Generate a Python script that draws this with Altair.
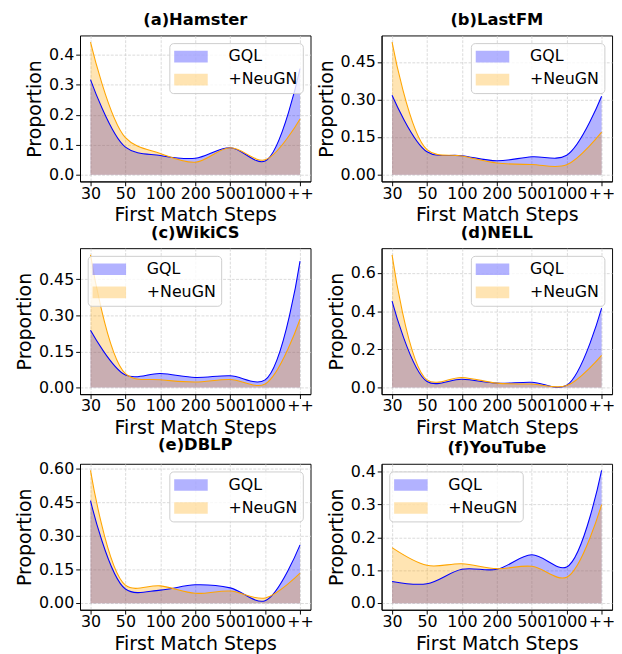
import altair as alt
import pandas as pd

steps = ["30", "50", "100", "200", "500", "1000", "++"]
series_names = ["GQL", "+NeuGN"]

titles = ["(a)Hamster", "(b)LastFM", "(c)WikiCS", "(d)NELL", "(e)DBLP", "(f)YouTube"]

hamster_gql = [0.317, 0.092, 0.064, 0.055, 0.090, 0.046, 0.354]
hamster_neu = [0.442, 0.124, 0.071, 0.042, 0.090, 0.050, 0.186]
lastfm_gql = [0.317, 0.092, 0.076, 0.056, 0.072, 0.078, 0.313]
lastfm_neu = [0.529, 0.100, 0.075, 0.047, 0.041, 0.040, 0.170]
wikics_gql = [0.238, 0.052, 0.058, 0.042, 0.049, 0.032, 0.526]
wikics_neu = [0.552, 0.058, 0.032, 0.023, 0.033, 0.015, 0.284]
nell_gql = [0.453, 0.032, 0.043, 0.023, 0.028, 0.012, 0.416]
nell_neu = [0.696, 0.040, 0.053, 0.023, 0.018, 0.010, 0.169]
dblp_gql = [0.457, 0.063, 0.058, 0.082, 0.068, 0.011, 0.260]
dblp_neu = [0.592, 0.080, 0.077, 0.044, 0.054, 0.023, 0.134]
youtube_gql = [0.066, 0.059, 0.103, 0.103, 0.147, 0.110, 0.404]
youtube_neu = [0.169, 0.115, 0.120, 0.105, 0.112, 0.079, 0.300]

y_ticks = [
    [0.0, 0.1, 0.2, 0.3, 0.4],
    [0.0, 0.15, 0.30, 0.45],
    [0.0, 0.15, 0.30, 0.45],
    [0.0, 0.2, 0.4, 0.6],
    [0.0, 0.15, 0.30, 0.45, 0.60],
    [0.0, 0.1, 0.2, 0.3, 0.4],
]
y_formats = [".1f", ".2f", ".2f", ".1f", ".2f", ".1f"]
legend_orients = ["top-right", "top-right", "top-left", "top-right", "top-right", "top-left"]

panel_data = [
    (hamster_gql, hamster_neu),
    (lastfm_gql, lastfm_neu),
    (wikics_gql, wikics_neu),
    (nell_gql, nell_neu),
    (dblp_gql, dblp_neu),
    (youtube_gql, youtube_neu),
]

FONT = "DejaVu Sans"
colors = ["blue", "orange"]
label_expr = "[" + ",".join("'%s'" % s for s in steps) + "][datum.value]"
INTERP = "catmull-rom"


def panel(i):
    gql, neu = panel_data[i]
    rows = []
    for name, vals in zip(series_names, (gql, neu)):
        for k, v in enumerate(vals):
            rows.append({"idx": k, "step": steps[k], "value": v, "series": name})
    df = pd.DataFrame(rows)
    vmax = max(max(gql), max(neu))
    ydom = [-0.05 * vmax, 1.05 * vmax]
    n = len(steps) - 1
    xdom = [-0.05 * n, n * 1.05]

    x = alt.X(
        "idx:Q",
        scale=alt.Scale(domain=xdom, nice=False, zero=False),
        axis=alt.Axis(
            values=list(range(len(steps))),
            labelExpr=label_expr,
            title="First Match Steps",
            labelOverlap=False,
            labelFlush=False,
        ),
    )
    y = alt.Y(
        "value:Q",
        stack=None,
        scale=alt.Scale(domain=ydom, nice=False, zero=False),
        axis=alt.Axis(values=y_ticks[i], format=y_formats[i], title="Proportion"),
    )
    legend = alt.Legend(
        title=None,
        orient=legend_orients[i],
        offset=8,
        padding=5,
        fillColor="rgba(255,255,255,0.8)",
        strokeColor="#cccccc",
        cornerRadius=4,
        symbolType="M-1.94,-0.67H1.94V0.67H-1.94Z",
        symbolSize=324,
        symbolOffset=8.5,
        symbolOpacity=0.3,
        symbolStrokeWidth=0,
        labelOffset=30,
        labelFontSize=16.5,
        labelFont=FONT,
        labelColor="black",
        rowPadding=6,
    )
    area = alt.Chart(df).mark_area(interpolate=INTERP, fillOpacity=0.3).encode(
        x=x,
        y=y,
        y2=alt.datum(0),
        fill=alt.Fill(
            "series:N",
            sort=series_names,
            scale=alt.Scale(domain=series_names, range=colors),
            legend=legend,
        ),
    )
    line = alt.Chart(df).mark_line(interpolate=INTERP, strokeWidth=1.1).encode(
        x=x,
        y=y,
        stroke=alt.Stroke(
            "series:N",
            sort=series_names,
            scale=alt.Scale(domain=series_names, range=colors),
            legend=None,
        ),
    )
    return alt.layer(area, line).properties(
        width=240,
        height=152,
        title=alt.TitleParams(
            titles[i], fontSize=17, fontWeight="bold", font=FONT, offset=7, color="black"
        ),
    )


chart = (
    alt.concat(*[panel(i) for i in range(6)], columns=2, spacing={"row": -2.5, "column": 2})
    .resolve_scale(fill="independent", stroke="independent", x="independent", y="independent")
    .resolve_legend(fill="independent")
    .properties(padding={"left": 7, "top": -11, "right": -2, "bottom": 0})
    .configure_view(stroke="black", strokeWidth=1)
    .configure_axis(
        labelFont=FONT,
        titleFont=FONT,
        labelFontSize=16.5,
        titleFontSize=19.7,
        labelColor="black",
        titleColor="black",
        titleFontWeight="normal",
        domainColor="black",
        tickColor="black",
        tickSize=4.5,
        titlePadding=4,
        grid=True,
        gridColor="#d0d0d0",
        gridDash=[3, 1.5],
        gridWidth=0.8,
    )
    .configure_axisX(labelPadding=0)
    .configure_axisY(labelPadding=2)
)

chart.save("out.html", embed_options={"renderer": "svg", "actions": False})
